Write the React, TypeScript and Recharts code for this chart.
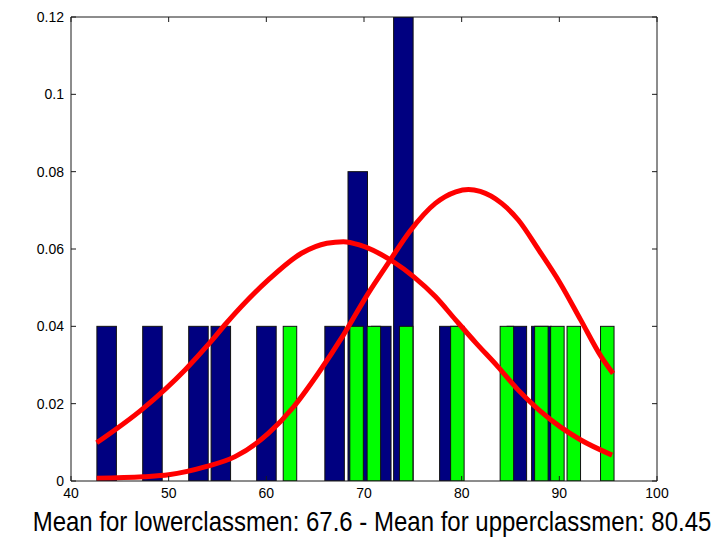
import React from 'react';
import { ComposedChart, Bar, Line, XAxis, YAxis } from 'recharts';

// Histogram bars (score -> relative frequency)
const lowerScores = [43.65, 48.34, 53.05, 55.34, 60.01, 66.99, 69.36, 71.77, 74.03, 78.74, 85.65, 88.16];
const lowerFreq = [0.04, 0.04, 0.04, 0.04, 0.04, 0.04, 0.08, 0.04, 0.12, 0.04, 0.04, 0.04];
const upperScores = [62.42, 69.24, 71.01, 74.32, 79.56, 84.63, 88.16, 89.8, 91.48, 94.91];
const upperFreq = [0.04, 0.04, 0.04, 0.04, 0.04, 0.04, 0.04, 0.04, 0.04, 0.04];

// Fitted curves
const lowerFitX = [42.63, 47.4, 51.7, 54.2, 55.9, 60.2, 63.6, 66.2, 67.9, 69.6, 73.0, 75.1, 77.3, 79.4, 81.5, 83.7, 85.8, 87.9, 90.1, 92.2, 95.4];
const lowerFitY = [0.0099, 0.0188, 0.0288, 0.0357, 0.0408, 0.052, 0.0589, 0.0615, 0.0619, 0.061, 0.0567, 0.0528, 0.0477, 0.0416, 0.0356, 0.0296, 0.0235, 0.0184, 0.014, 0.0106, 0.0067];
const upperFitX = [42.63, 47.4, 50.0, 53.8, 56.8, 60.2, 62.8, 65.3, 67.9, 70.4, 72.6, 74.7, 77.3, 79.4, 80.7, 81.9, 84.1, 85.8, 87.9, 90.1, 92.2, 94.3, 95.5];
const upperFitY = [0.0007, 0.0011, 0.0016, 0.0037, 0.0063, 0.0123, 0.0192, 0.0278, 0.0378, 0.0484, 0.0568, 0.0646, 0.0718, 0.0748, 0.0754, 0.0749, 0.0718, 0.0675, 0.0597, 0.0511, 0.0416, 0.0321, 0.0278];

const xTicks = [40, 50, 60, 70, 80, 90, 100];
const xTickLabels = ['40', '50', '60', '70', '80', '90', '100'];
const yTicks = [0, 0.02, 0.04, 0.06, 0.08, 0.1, 0.12];
const yTickLabels = ['0', '0.02', '0.04', '0.06', '0.08', '0.1', '0.12'];
const title = 'Mean for lowerclassmen: 67.6 - Mean for upperclassmen: 80.45';

// Build the table of bars
const rowMap = new Map<number, any>();
lowerScores.forEach((s, i) => {
  const r = rowMap.get(s) || { score: s };
  r.lower = lowerFreq[i];
  rowMap.set(s, r);
});
upperScores.forEach((s, i) => {
  const r = rowMap.get(s) || { score: s };
  r.upper = upperFreq[i];
  rowMap.set(s, r);
});
const barRows = Array.from(rowMap.values()).sort((a, b) => a.score - b.score);
const lowerFit = lowerFitX.map((x, i) => ({ score: x, density: lowerFitY[i] }));
const upperFit = upperFitX.map((x, i) => ({ score: x, density: upperFitY[i] }));

const FONT = '"Liberation Sans", Arial, Helvetica, sans-serif';
const TICK_LEN = 5;
const AXIS_COLOR = '#1a1a1a';

const makeBarShape = (w: number, fill: string) => (props: any) => {
  const { x, y, width, height } = props;
  if (!(height > 0)) return null;
  const cx = x + width / 2;
  return <rect x={cx - w / 2} y={y} width={w} height={height} fill={fill} stroke="#111" strokeWidth={1} />;
};

const fmt = (labels: string[], ticks: number[]) => (v: number) => {
  const i = ticks.findIndex((t) => Math.abs(t - v) < 1e-9);
  return i >= 0 ? labels[i] : String(v);
};
const fmtX = fmt(xTickLabels, xTicks);
const fmtY = fmt(yTickLabels, yTicks);

const BottomTick = (props: any) => {
  const { x, y, payload } = props;
  return (
    <g>
      <line x1={x} y1={y} x2={x} y2={y - TICK_LEN} stroke={AXIS_COLOR} strokeWidth={1} />
      <text x={x} y={y + 17} textAnchor="middle" fontFamily={FONT} fontSize={14} fill="#000">
        {fmtX(payload.value)}
      </text>
    </g>
  );
};
const TopTick = (props: any) => {
  const { x, y } = props;
  return <line x1={x} y1={y} x2={x} y2={y + TICK_LEN} stroke={AXIS_COLOR} strokeWidth={1} />;
};
const LeftTick = (props: any) => {
  const { x, y, payload } = props;
  return (
    <g>
      <line x1={x} y1={y} x2={x + TICK_LEN} y2={y} stroke={AXIS_COLOR} strokeWidth={1} />
      <text x={x - 7} y={y + 5} textAnchor="end" fontFamily={FONT} fontSize={14} fill="#000">
        {fmtY(payload.value)}
      </text>
    </g>
  );
};
const RightTick = (props: any) => {
  const { x, y } = props;
  return <line x1={x} y1={y} x2={x - TICK_LEN} y2={y} stroke={AXIS_COLOR} strokeWidth={1} />;
};

export default function App() {
  return (
    <div style={{ position: 'absolute', left: 0, top: 0, width: 716, height: 539, background: '#fff' }}>
      <ComposedChart
        width={716}
        height={539}
        data={barRows}
        margin={{ top: 12, right: 49, bottom: 38, left: 31 }}
      >
        <XAxis
          xAxisId="bottom"
          dataKey="score"
          type="number"
          domain={[40, 100]}
          allowDataOverflow
          ticks={xTicks}
          interval={0}
          orientation="bottom"
          height={20}
          tickSize={0}
          tickMargin={0}
          tickLine={false}
          axisLine={{ stroke: AXIS_COLOR, strokeWidth: 1 }}
          tick={<BottomTick />}
        />
        <XAxis
          xAxisId="top"
          dataKey="score"
          type="number"
          domain={[40, 100]}
          allowDataOverflow
          ticks={xTicks}
          interval={0}
          orientation="top"
          height={5}
          tickSize={0}
          tickMargin={0}
          tickLine={false}
          axisLine={{ stroke: AXIS_COLOR, strokeWidth: 1 }}
          tick={<TopTick />}
        />
        <YAxis
          yAxisId="left"
          type="number"
          domain={[0, 0.12]}
          allowDataOverflow
          ticks={yTicks}
          interval={0}
          width={40}
          tickSize={0}
          tickMargin={0}
          tickLine={false}
          axisLine={{ stroke: AXIS_COLOR, strokeWidth: 1 }}
          tick={<LeftTick />}
        />
        <YAxis
          yAxisId="right"
          orientation="right"
          type="number"
          domain={[0, 0.12]}
          allowDataOverflow
          ticks={yTicks}
          interval={0}
          width={10}
          tickSize={0}
          tickMargin={0}
          tickLine={false}
          axisLine={{ stroke: AXIS_COLOR, strokeWidth: 1 }}
          tick={<RightTick />}
        />
        <Bar
          xAxisId="bottom"
          yAxisId="left"
          dataKey="lower"
          shape={makeBarShape(19.5, '#000080')}
          isAnimationActive={false}
        />
        <Bar
          xAxisId="top"
          yAxisId="left"
          dataKey="upper"
          shape={makeBarShape(13.5, '#00ff00')}
          isAnimationActive={false}
        />
        <Line
          xAxisId="bottom"
          yAxisId="left"
          data={lowerFit}
          dataKey="density"
          type="monotone"
          stroke="#ff0000"
          strokeWidth={5}
          dot={false}
          activeDot={false}
          isAnimationActive={false}
        />
        <Line
          xAxisId="bottom"
          yAxisId="left"
          data={upperFit}
          dataKey="density"
          type="monotone"
          stroke="#ff0000"
          strokeWidth={5}
          dot={false}
          activeDot={false}
          isAnimationActive={false}
        />
      </ComposedChart>
      <svg width={716} height={539} style={{ position: 'absolute', left: 0, top: 0, pointerEvents: 'none' }}>
        <g transform="translate(372,531) scale(1,1.12)">
          <text x={0} y={0} textAnchor="middle" fontFamily={FONT} fontSize={24} fill="#000">
            {title}
          </text>
        </g>
      </svg>
    </div>
  );
}
